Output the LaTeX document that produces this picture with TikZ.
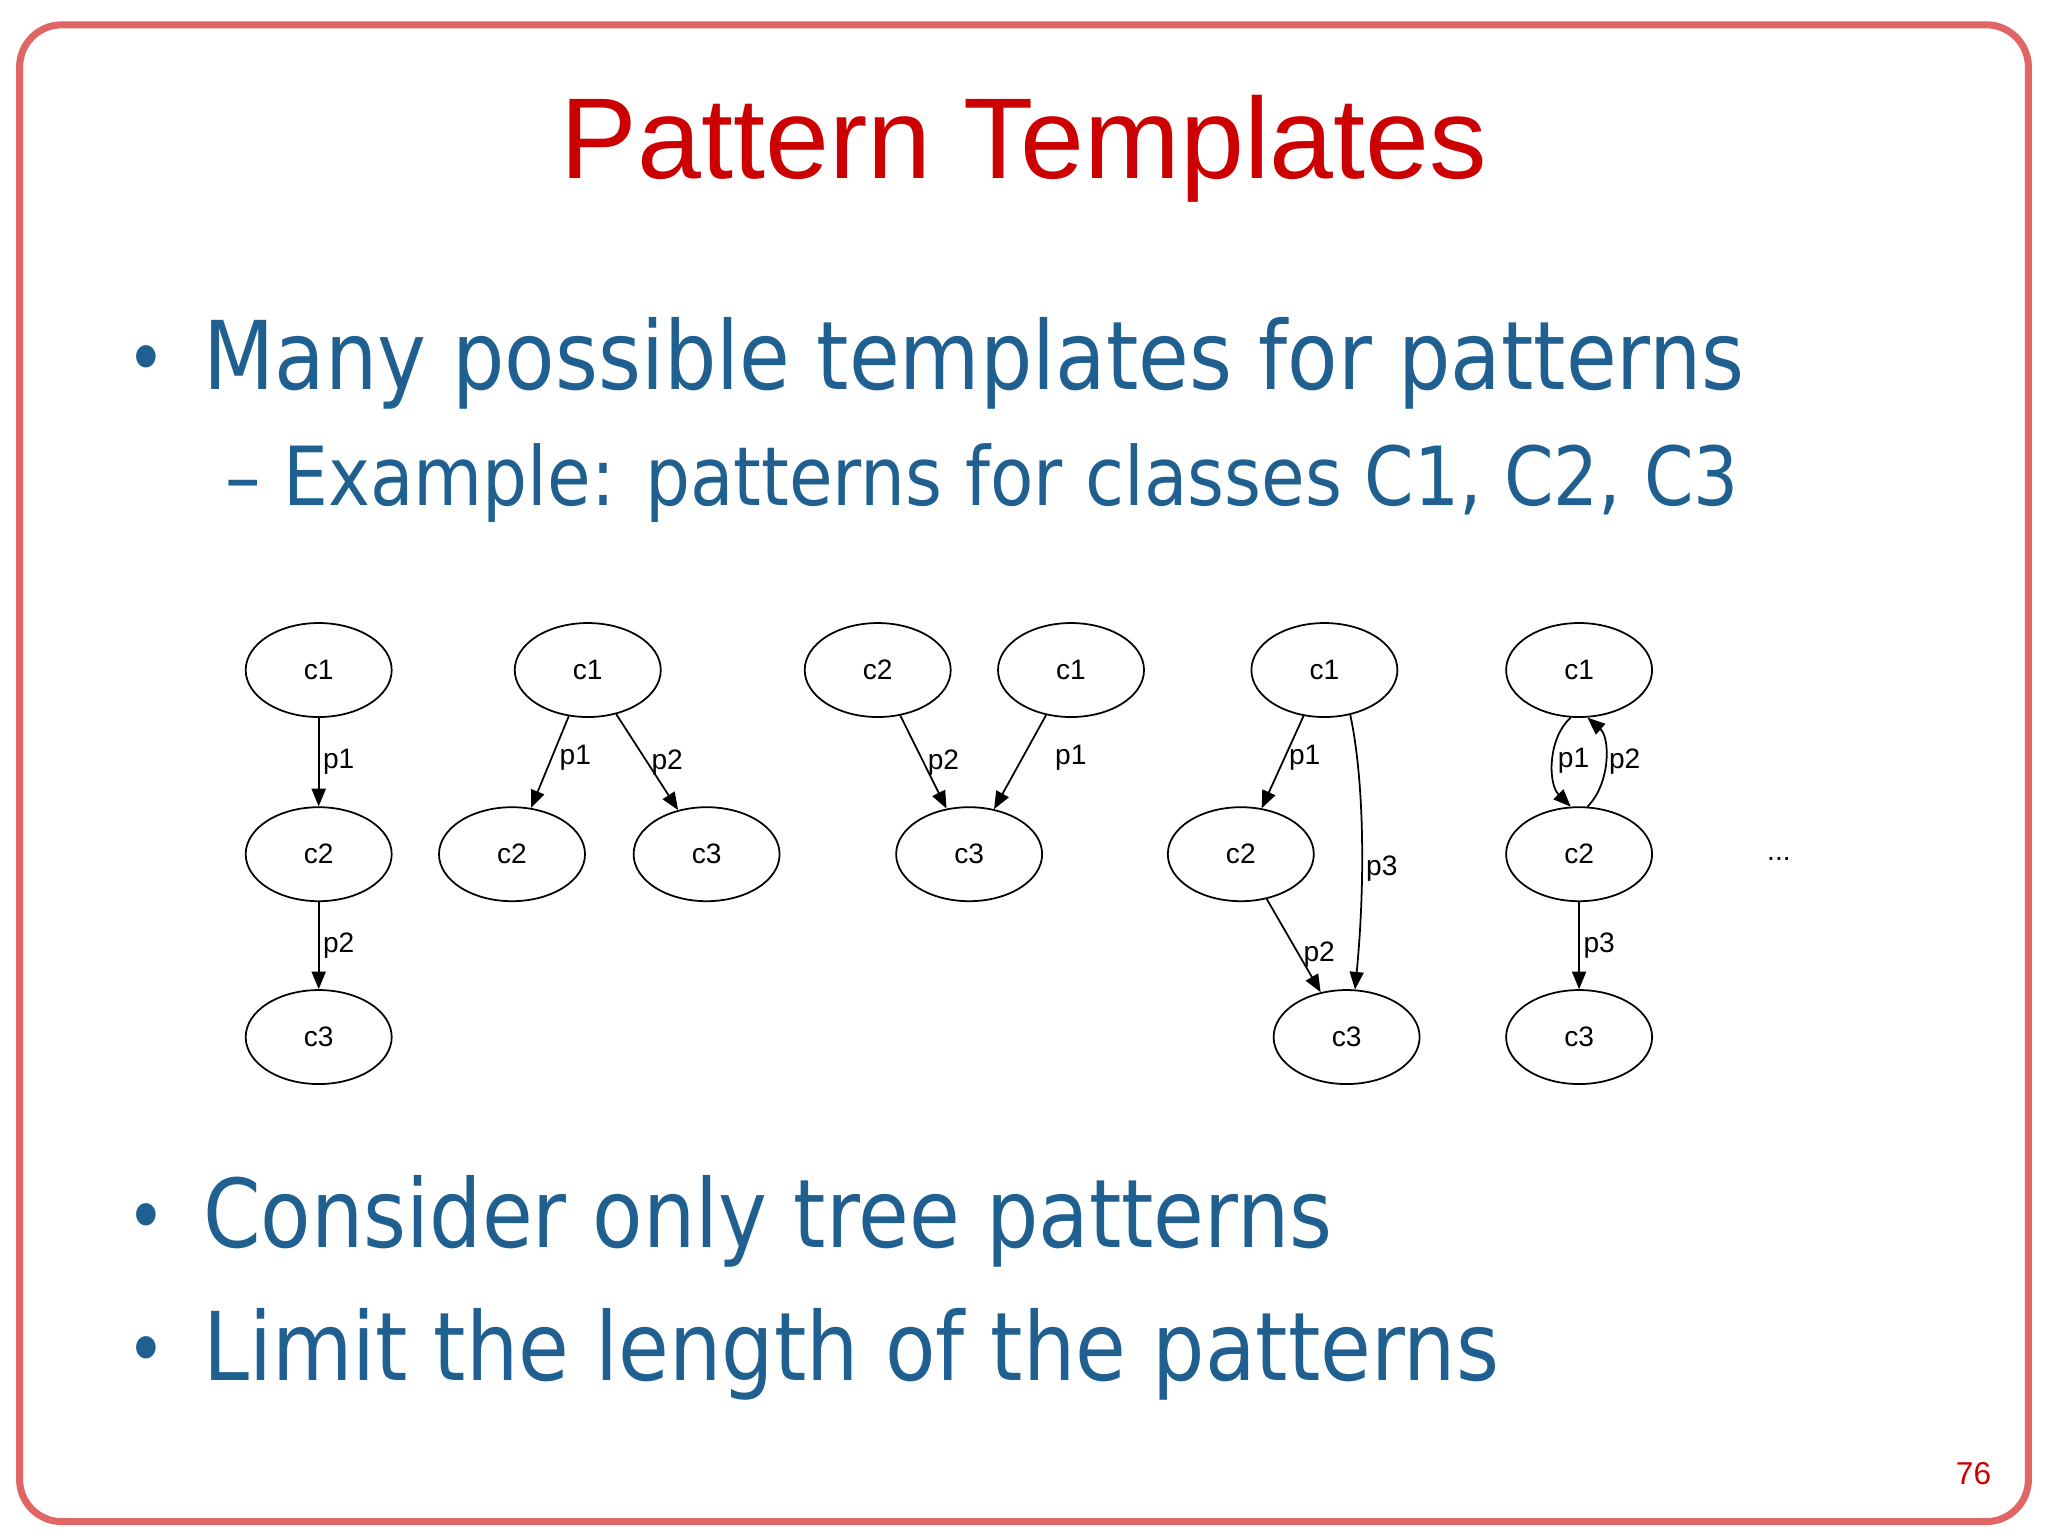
\documentclass[tikz,border=0pt]{standalone}
\usepackage{fontspec}
\setmainfont{DejaVu Sans}[FakeStretch=0.87]
\newfontfamily\arial{Liberation Sans}
\usetikzlibrary{shapes.geometric,arrows.meta}
\definecolor{ttl}{HTML}{CC0000}
\definecolor{blu}{HTML}{1F6090}
\tikzset{
 cl/.style={ellipse,draw,line width=0.5pt,minimum width=1.46cm,minimum height=0.94cm,font=\arial\fontsize{8}{9}\selectfont,inner sep=0pt},
 ed/.style={-{Triangle[length=5pt,width=4pt]},line width=0.5pt},
 lb/.style={font=\arial\fontsize{8}{9}\selectfont,inner sep=1pt},
 bl/.style={text=blu,anchor=base west,inner sep=0pt}
}
\begin{document}
\begin{tikzpicture}[x=0.01306cm,y=-0.01306cm]
\useasboundingbox (0,0) rectangle (1568,1176);
\fill[white] (0,0) rectangle (1568,1176);
\draw[ttl!60,line width=2pt,rounded corners=12pt] (15,19) rectangle (1553,1165);
\node[text=ttl,font=\arial\fontsize{32.7}{38}\selectfont,anchor=base] (t) at (784,137) {Pattern Templates};
\node[bl,font=\fontsize{22}{30}\selectfont] (b1) at (96,295) {•};
\node[bl,font=\fontsize{27}{30}\selectfont] (l1) at (155,298) {Many possible templates for patterns};
\node[bl,font=\fontsize{23.2}{26}\selectfont] (l2) at (172,387) {– Example: patterns for classes C1, C2, C3};
\node[bl,font=\fontsize{22}{30}\selectfont] (b2) at (96,952) {•};
\node[bl,font=\fontsize{27}{30}\selectfont] (l3) at (155,955) {Consider only tree patterns};
\node[bl,font=\fontsize{22}{30}\selectfont] (b3) at (96,1054) {•};
\node[bl,font=\fontsize{27}{30}\selectfont] (l4) at (155,1057) {Limit the length of the patterns};
\node[text=ttl,font=\arial\fontsize{9}{10}\selectfont] (pg) at (1511,1128) {76};
% G1
\node[cl] (a1) at (244,513) {c1};
\node[cl] (a2) at (244,654) {c2};
\node[cl] (a3) at (244,794) {c3};
\draw[ed] (a1) -- node[lb,right,pos=0.5] {p1} (a2);
\draw[ed] (a2) -- node[lb,right,pos=0.5] {p2} (a3);
% G2
\node[cl] (b1n) at (450,513) {c1};
\node[cl] (b2n) at (392,654) {c2};
\node[cl] (b3n) at (541,654) {c3};
\draw[ed] (b1n) -- node[lb,right,pos=0.45,xshift=1pt] {p1} (b2n);
\draw[ed] (b1n) -- node[lb,right,pos=0.5] {p2} (b3n);
% G3
\node[cl] (c2n) at (672,513) {c2};
\node[cl] (c1n) at (820,513) {c1};
\node[cl] (c3n) at (742,654) {c3};
\draw[ed] (c2n) -- node[lb,right,pos=0.5] {p2} (c3n);
\draw[ed] (c1n) -- node[lb,right,pos=0.45,xshift=8pt] {p1} (c3n);
% G4
\node[cl] (d1) at (1014,513) {c1};
\node[cl] (d2) at (950,654) {c2};
\node[cl] (d3) at (1031,794) {c3};
\draw[ed] (d1) -- node[lb,right,pos=0.45] {p1} (d2);
\draw[ed] (d2) -- node[lb,right,pos=0.6] {p2} (d3);
\draw[ed] (d1.-60) .. controls (1045,600) and (1045,680) .. node[lb,right,pos=0.6] {p3} (d3.80);
% G5
\node[cl] (e1) at (1209,513) {c1};
\node[cl] (e2) at (1209,654) {c2};
\node[cl] (e3) at (1209,794) {c3};
\draw[ed] (e1.-100) .. controls (1185,565) and (1185,600) .. node[lb,right,pos=0.5] {p1} (e2.100);
\draw[ed] (e2.80) .. controls (1233,600) and (1233,565) .. node[lb,right,pos=0.5] {p2} (e1.-80);
\draw[ed] (e2) -- node[lb,right,pos=0.5] {p3} (e3);
\node[font=\arial\fontsize{8}{9}\selectfont] (dots) at (1362,658) {...};
\end{tikzpicture}
\end{document}
